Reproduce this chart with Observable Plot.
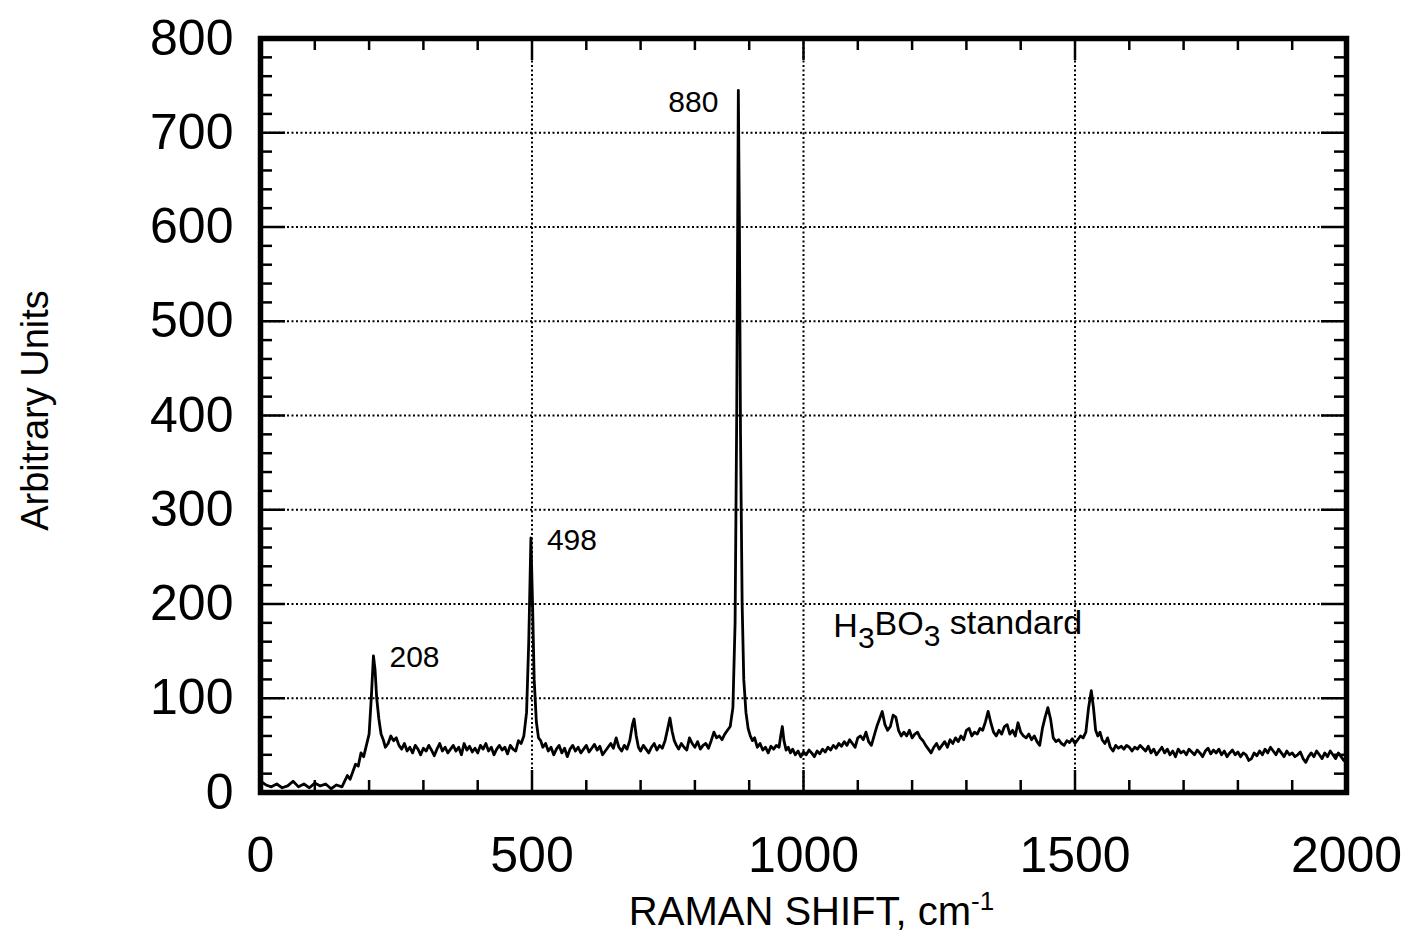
<!DOCTYPE html>
<html><head><meta charset="utf-8">
<script src="https://cdn.jsdelivr.net/npm/d3@7"></script>
<script src="https://cdn.jsdelivr.net/npm/@observablehq/plot@0.6"></script>
<style>body{margin:0;background:#fff} #chart svg{font-family:"Liberation Sans",Arial,Helvetica,sans-serif}</style>
</head><body><div id="chart"></div>
<script>
// Raman shift (cm-1) and intensity (arbitrary units)
const shift = [0,10,20,30,40,50,60,70,80,90,100,110,120,130,140,150,155,160,165,170,175,180,185,190,195,200,204,208,211,214,218,222,226,230,235,240,245,250,255,260,265,270,275,280,285,290,295,300,305,310,315,320,325,330,335,340,345,350,355,360,365,370,375,380,385,390,395,400,405,410,415,420,425,430,435,440,445,450,455,460,465,470,475,480,485,490,494,498,501,504,508,512,516,520,525,530,535,540,545,550,555,560,565,570,575,580,585,590,595,600,605,610,615,620,625,630,635,640,645,650,655,660,665,670,675,680,685,688,692,696,700,705,710,715,720,725,730,735,740,745,750,754,758,762,766,770,775,780,785,790,795,800,805,810,815,820,825,830,835,840,845,850,855,860,865,870,874,877,880,882,884,887,890,894,898,902,906,910,915,920,925,930,935,940,945,950,955,958,961,964,968,972,976,980,985,990,995,1000,1005,1010,1015,1020,1025,1030,1035,1040,1045,1050,1055,1060,1065,1070,1075,1080,1085,1090,1095,1100,1105,1110,1115,1120,1125,1130,1135,1140,1145,1150,1155,1160,1165,1170,1175,1180,1185,1190,1195,1200,1205,1210,1215,1220,1225,1230,1235,1240,1245,1250,1255,1260,1265,1270,1275,1280,1285,1290,1295,1300,1305,1310,1315,1320,1325,1330,1335,1340,1345,1350,1355,1360,1365,1370,1375,1380,1385,1390,1395,1400,1405,1410,1415,1420,1425,1430,1435,1440,1445,1450,1455,1460,1465,1470,1475,1480,1485,1490,1495,1500,1505,1510,1515,1520,1525,1530,1534,1538,1542,1546,1550,1555,1560,1565,1570,1575,1580,1585,1590,1595,1600,1605,1610,1615,1620,1625,1630,1635,1640,1645,1650,1655,1660,1665,1670,1675,1680,1685,1690,1695,1700,1705,1710,1715,1720,1725,1730,1735,1740,1745,1750,1755,1760,1765,1770,1775,1780,1785,1790,1795,1800,1805,1810,1815,1820,1825,1830,1835,1840,1845,1850,1855,1860,1865,1870,1875,1880,1885,1890,1895,1900,1905,1910,1915,1920,1925,1930,1935,1940,1945,1950,1955,1960,1965,1970,1975,1980,1985,1990,1995,2000];
const intensity = [12,8,6,9,5,7,12,6,9,5,10,7,9,4,8,6,12,18,14,22,30,28,42,38,50,62,100,145,130,100,78,62,56,48,52,60,55,58,50,46,52,44,48,42,50,46,40,47,44,50,45,39,46,52,44,48,42,46,50,44,48,40,52,45,49,43,47,42,50,46,52,44,48,40,46,50,45,48,41,50,46,44,55,52,60,85,160,270,200,120,75,58,55,48,52,44,48,40,46,50,42,47,38,46,50,44,48,42,46,50,43,47,51,45,49,40,44,48,52,47,58,48,44,50,46,55,72,78,60,48,44,50,46,42,48,52,45,50,47,55,68,79,65,55,50,46,52,48,45,58,52,48,54,46,50,52,47,55,64,58,60,56,62,66,70,90,180,400,745,600,380,200,120,85,68,60,55,58,48,52,45,48,42,49,46,50,48,60,70,55,45,48,42,46,40,44,38,43,40,45,42,38,44,41,46,43,48,45,50,47,52,49,54,50,56,52,48,58,60,56,64,54,50,60,70,78,86,72,66,70,82,80,66,60,64,60,66,58,62,64,58,55,50,46,42,48,52,46,50,54,48,56,52,58,54,60,56,66,68,60,64,62,68,66,75,86,74,64,60,66,62,70,72,62,66,60,74,64,60,58,62,56,60,54,50,68,80,90,78,58,54,56,52,50,55,53,57,52,56,60,58,64,90,108,90,66,60,64,56,52,58,48,44,50,47,49,46,50,48,44,48,46,50,47,44,49,42,46,40,44,48,42,46,40,44,38,46,42,44,40,46,43,40,45,42,38,44,47,41,45,42,46,40,44,38,42,45,40,43,38,42,40,34,36,42,39,44,40,46,42,48,44,40,46,42,38,44,40,42,38,40,43,36,32,38,42,38,44,40,36,42,38,44,40,36,42,38,34,36];

const xTicks = [0, 500, 1000, 1500, 2000];
const yTicks = [0, 100, 200, 300, 400, 500, 600, 700, 800];
const xMinor = d3.range(100, 2000, 100).filter(v => v % 500 !== 0);
const yMinor = d3.range(20, 800, 20).filter(v => v % 100 !== 0);

const peakShift = [208, 498, 880];
const peakHeight = [145, 270, 745];
const peakLabel = ["208", "498", "880"];
const sampleLabel = ["H3BO3 standard"];
const sampleShift = [1055];
const sampleHeight = [177];

const W = 1406, H = 935, mL = 260, mR = 60, mT = 38, mB = 143;
const fw = W - mL - mR, fh = H - mT - mB;
const grid = {stroke: "black", strokeOpacity: 1, strokeWidth: 2, strokeDasharray: "2,2.5"};
const fmt = d3.format("d");

const chart = Plot.plot({
  width: W, height: H,
  marginLeft: mL, marginRight: mR, marginTop: mT, marginBottom: mB,
  x: {domain: [0, 2000]},
  y: {domain: [0, 800]},
  style: {background: "white", color: "black"},
  marks: [
    Plot.gridX(xTicks.slice(1, -1), grid),
    Plot.gridY(yTicks.slice(1, -1), grid),
    Plot.tickX(xMinor, {x: d => d, insetTop: fh - 12, strokeWidth: 2.5}),
    Plot.tickX(xMinor, {x: d => d, insetBottom: fh - 12, strokeWidth: 2.5}),
    Plot.tickX(xTicks, {x: d => d, insetTop: fh - 22, strokeWidth: 2.5}),
    Plot.tickX(xTicks, {x: d => d, insetBottom: fh - 22, strokeWidth: 2.5}),
    Plot.tickY(yMinor, {y: d => d, insetRight: fw - 12, strokeWidth: 2.5}),
    Plot.tickY(yMinor, {y: d => d, insetLeft: fw - 12, strokeWidth: 2.5}),
    Plot.tickY(yTicks, {y: d => d, insetRight: fw - 25, strokeWidth: 2.5}),
    Plot.tickY(yTicks, {y: d => d, insetLeft: fw - 25, strokeWidth: 2.5}),
    Plot.line(intensity, {x: shift, y: intensity, stroke: "black", strokeWidth: 2.8, strokeLinejoin: "round"}),
    Plot.frame({stroke: "black", strokeWidth: 5.5}),
    Plot.axisX(xTicks, {tickSize: 0, tickPadding: 44, fontSize: 50, tickFormat: fmt, label: null}),
    Plot.axisY(yTicks, {tickSize: 0, tickPadding: 27, fontSize: 50, tickFormat: fmt, label: null}),
    Plot.text(peakLabel.slice(0, 2), {x: peakShift.slice(0, 2), y: peakHeight.slice(0, 2), text: d => d, textAnchor: "start", dx: 16, dy: 2, fontSize: 30}),
    Plot.text(peakLabel.slice(2), {x: peakShift.slice(2), y: peakHeight.slice(2), text: d => d, textAnchor: "end", dx: -20, dy: 12, fontSize: 30}),
    Plot.text(sampleLabel, {x: sampleShift, y: sampleHeight, text: d => d, textAnchor: "start", fontSize: 34}),
    Plot.text(["RAMAN SHIFT, cm"], {frameAnchor: "bottom", text: d => d, textAnchor: "middle", dx: 8, dy: 132, fontSize: 40}),
    Plot.text(["Arbitrary Units"], {frameAnchor: "left", text: d => d, textAnchor: "middle", dx: -225, dy: -5, rotate: -90, fontSize: 38})
  ]
});
document.getElementById("chart").append(chart);

// super/subscripts
const svg = d3.select(chart);
svg.selectAll("text").each(function() {
  const t = d3.select(this);
  const s = this.textContent;
  if (s === "RAMAN SHIFT, cm") {
    t.append("tspan").attr("dy", "-0.55em").attr("font-size", "26px").text("-1");
  } else if (s === "H3BO3 standard") {
    t.text(null);
    t.append("tspan").text("H");
    t.append("tspan").attr("dy", "0.38em").attr("font-size", "30px").text("3");
    t.append("tspan").attr("dy", "-0.38em").text("BO");
    t.append("tspan").attr("dy", "0.38em").attr("font-size", "30px").text("3");
    t.append("tspan").attr("dy", "-0.38em").text(" standard");
  }
});
</script></body></html>
